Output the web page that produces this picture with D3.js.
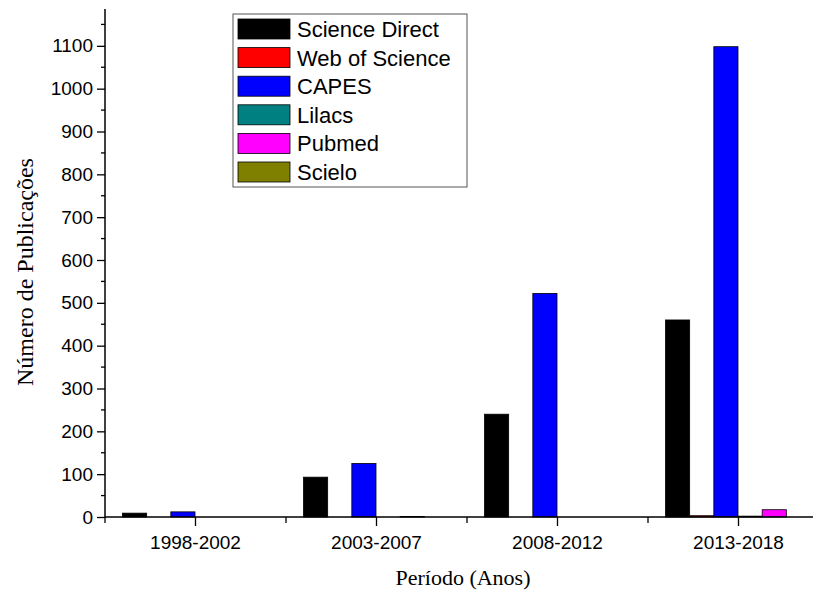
<!DOCTYPE html>
<meta charset="utf-8">
<style>
  body { margin: 0; background: #fff; }
  .tick text { font: 19px Arial, "Liberation Sans", sans-serif; fill: #000; }
  .axis-title { font: 22px "Times New Roman", "Liberation Serif", serif; fill: #000; }
  .legend text { font: 22px Arial, "Liberation Sans", sans-serif; fill: #000; }
</style>
<body>
<svg width="813" height="591"></svg>
<script src="https://d3js.org/d3.v7.min.js"></script>
<script>
// periods on x axis
var periods = ["1998-2002", "2003-2007", "2008-2012", "2013-2018"];
// databases (series)
var sources = ["Science Direct", "Web of Science", "CAPES", "Lilacs", "Pubmed", "Scielo"];
var colors = ["#000000", "#ff0000", "#0000ff", "#008080", "#ff00ff", "#808000"];

// values per source, one per period
var scienceDirect = [9, 93, 240, 460];
var webOfScience  = [0, 0, 0, 3];
var capes         = [12, 125, 522, 1098];
var lilacs        = [0, 0, 0, 2];
var pubmed        = [0, 1, 0, 17];
var scielo        = [0, 0, 0, 0];
var series = [scienceDirect, webOfScience, capes, lilacs, pubmed, scielo];

var yTicks = [0, 100, 200, 300, 400, 500, 600, 700, 800, 900, 1000, 1100];

var svg = d3.select("svg");
var mLeft = 105, mBottom = 517, mTop = 9;

var x = d3.scaleBand().domain(periods).range([mLeft, mLeft + 4 * 181]);
var inner = d3.scaleBand().domain(sources).range([17.5, 181 - 18.5]);
var y = d3.scaleLinear().domain([0, 1186]).range([mBottom, mTop]);

// bars
var groups = svg.append("g").selectAll("g")
  .data(periods).enter().append("g")
  .attr("transform", function(d) { return "translate(" + x(d) + ",0)"; });

groups.selectAll("rect")
  .data(function(d, i) { return sources.map(function(s, j) { return { s: s, v: series[j][i], c: colors[j] }; }); })
  .enter().append("rect")
  .filter(function(d) { return d.v > 0; })
  .attr("x", function(d) { return inner(d.s); })
  .attr("width", inner.bandwidth())
  .attr("y", function(d) { return y(d.v); })
  .attr("height", function(d) { return mBottom - y(d.v); })
  .attr("fill", function(d) { return d.c; })
  .attr("stroke", "#000")
  .attr("stroke-width", 0.8);

// y axis
var yAxis = svg.append("g").attr("transform", "translate(" + mLeft + ",0)")
  .call(d3.axisLeft(y).tickValues(yTicks).tickFormat(d3.format("d")).tickSize(8).tickPadding(4));
yAxis.select(".domain").remove();
yAxis.selectAll("line").attr("stroke-width", 1.3);
svg.append("g").selectAll("line")
  .data(d3.range(50, 1186, 100)).enter().append("line")
  .attr("x1", mLeft - 4).attr("x2", mLeft)
  .attr("y1", function(d) { return y(d); }).attr("y2", function(d) { return y(d); })
  .attr("stroke", "#000").attr("stroke-width", 1.3);
svg.append("line").attr("x1", mLeft).attr("x2", mLeft).attr("y1", mTop).attr("y2", mBottom + 1)
  .attr("stroke", "#000").attr("stroke-width", 1.5);

// x axis
var xAxis = svg.append("g").attr("transform", "translate(0," + mBottom + ")")
  .call(d3.axisBottom(x).tickSize(9).tickPadding(10));
xAxis.select(".domain").remove();
xAxis.selectAll("line").attr("stroke-width", 1.3);
svg.append("g").selectAll("line")
  .data(periods).enter().append("line")
  .attr("x1", function(d) { return x(d); }).attr("x2", function(d) { return x(d); })
  .attr("y1", mBottom).attr("y2", mBottom + 6)
  .attr("stroke", "#000").attr("stroke-width", 1.3);
svg.append("line").attr("x1", mLeft).attr("x2", 813).attr("y1", mBottom).attr("y2", mBottom)
  .attr("stroke", "#000").attr("stroke-width", 1.5);

// axis titles
svg.append("text").attr("class", "axis-title")
  .style("font-size", "24px")
  .attr("transform", "translate(33,272) rotate(-90)")
  .attr("text-anchor", "middle").text("Número de Publicações");
svg.append("text").attr("class", "axis-title")
  .attr("x", 463).attr("y", 585).attr("text-anchor", "middle").text("Período (Anos)");

// legend
var legend = svg.append("g").attr("class", "legend");
legend.append("rect").attr("x", 233).attr("y", 14).attr("width", 234).attr("height", 173)
  .attr("fill", "#fff").attr("stroke", "#555").attr("stroke-width", 1);
var items = legend.selectAll("g.item").data(sources).enter().append("g")
  .attr("transform", function(d, i) { return "translate(238," + (29 + i * 28.6) + ")"; });
items.append("rect").attr("x", 0).attr("y", -10).attr("width", 52).attr("height", 20)
  .attr("fill", function(d, i) { return colors[i]; }).attr("stroke", "#000").attr("stroke-width", 0.8);
items.append("text").attr("x", 59).attr("y", 8).text(function(d) { return d; });
</script>
</body>
